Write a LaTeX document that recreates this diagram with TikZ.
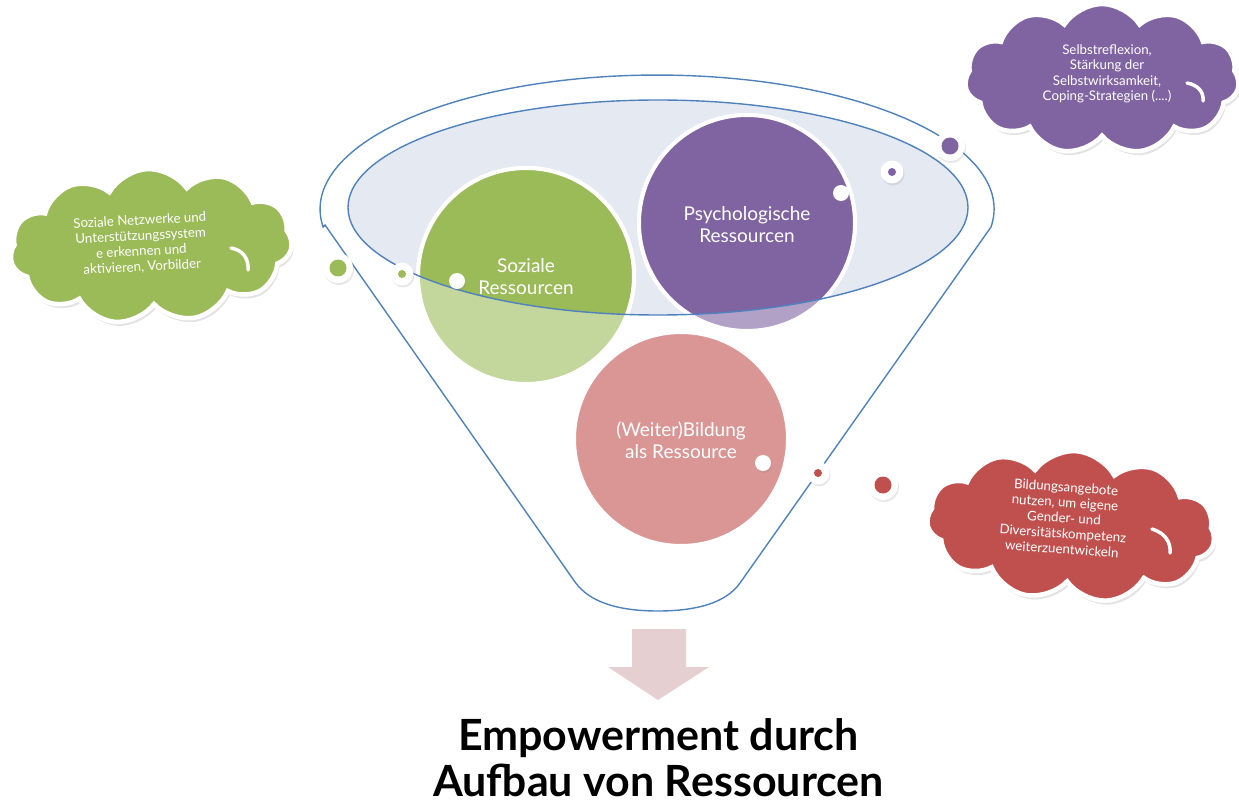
\documentclass[tikz,border=0pt]{standalone}
\usepackage{fontspec}
\setmainfont{Lato}
\usetikzlibrary{shapes.symbols,shadows}
\definecolor{fblue}{RGB}{79,129,189}
\definecolor{fgreen}{RGB}{155,187,89}
\definecolor{fgreenl}{RGB}{195,214,155}
\definecolor{fpurple}{RGB}{128,100,162}
\definecolor{fpurplel}{RGB}{178,161,199}
\definecolor{fred}{RGB}{192,80,77}
\definecolor{fpink}{RGB}{217,150,148}
\definecolor{fell}{RGB}{228,233,242}
\definecolor{farrow}{RGB}{230,207,208}
\tikzset{
  bigcirc/.style={circle, draw=white, line width=4, minimum size=216, inner sep=0},
  ctext/.style={text=white, align=center, font=\fontsize{19}{22}\selectfont},
  cloudbox/.style={cloud, cloud puffs=11, cloud puff arc=115, aspect=1.9, draw=white, line width=4.5, inner sep=0,
     drop shadow={opacity=0.22, shadow xshift=2pt, shadow yshift=-4pt}},
  cltext/.style={text=white, align=center, font=\fontsize{13.3}{15.5}\selectfont},
  ring/.style={circle, fill=white, inner sep=0, drop shadow={opacity=0.18, shadow xshift=1pt, shadow yshift=-2pt}},
  dotin/.style={circle, inner sep=0},
  funnel/.style={draw=fblue, line width=1.4},
  innerarc/.style={draw=white, line width=3.5, line cap=round},
  titletext/.style={anchor=base, inner sep=0, font=\bfseries\fontsize{43}{49}\selectfont},
}
\begin{document}
\begin{tikzpicture}[x=1pt,y=-1pt]
\useasboundingbox (0,0) rectangle (1239,802);
% inner ellipse fill
\fill[fell] (658,207.5) ellipse [x radius=310, y radius=107.5];
% circles (light versions)
\node[bigcirc, fill=fgreenl] (soz) at (526,276) {};
\node[bigcirc, fill=fpurplel] (psy) at (747,223) {};
\node[bigcirc, fill=fpink, minimum size=214] (bil) at (681,439) {};
% full-color parts inside ellipse
\begin{scope}
\clip (658,207.5) ellipse [x radius=310, y radius=107.5];
\path[fill=fgreen, draw=white, line width=4] (526,276) circle [radius=108];
\path[fill=fpurple, draw=white, line width=4] (747,223) circle [radius=108];
\end{scope}
% inner ellipse outline
\draw[funnel] (658,207.5) ellipse [x radius=310, y radius=107.5];
% funnel outline
\draw[funnel] (325,225) -- (575,582) .. controls (590,603) and (620,611) .. (658,611)
   .. controls (696,611) and (726,603) .. (740,583) -- (991,227)
   arc [start angle=7.7, end angle=-187.7, x radius=337, y radius=134] -- cycle;
% circle texts
\node[ctext] (sozt) at (526,277) {Soziale\\Ressourcen};
\node[ctext] (psyt) at (747,225) {Psychologische\\Ressourcen};
\node[ctext] (bilt) at (681,440) {(Weiter)Bildung\\als Ressource};
% white dots on circles
\node[ring, minimum size=16] (wd1) at (457,281) {};
\node[ring, minimum size=16] (wd2) at (841,193) {};
\node[ring, minimum size=16] (wd3) at (763,463) {};
% green dots
\node[ring, minimum size=23] (gs) at (402,274) {};
\node[dotin, fill=fgreen, minimum size=8] (gsi) at (gs) {};
\node[ring, minimum size=30] (gb) at (338,268) {};
\node[dotin, fill=fgreen, minimum size=17] (gbi) at (gb) {};
% purple dots
\node[ring, minimum size=23] (ps) at (892,172) {};
\node[dotin, fill=fpurple, minimum size=8] (psi) at (ps) {};
\node[ring, minimum size=30] (pb) at (950,146) {};
\node[dotin, fill=fpurple, minimum size=17] (pbi) at (pb) {};
% red dots
\node[ring, minimum size=23] (rs) at (818,473) {};
\node[dotin, fill=fred, minimum size=8] (rsi) at (rs) {};
\node[ring, minimum size=30] (rb) at (883,485) {};
\node[dotin, fill=fred, minimum size=17] (rbi) at (rb) {};
% clouds
\node[cloudbox, fill=fgreen, minimum width=282, minimum height=154, rotate=3] (gcloud) at (151,246) {};
\draw[innerarc] (231,248) .. controls (243,250) and (249,259) .. (248,270);
\node[cltext, rotate=3] (gct) at (141,244) {Soziale Netzwerke und\\Unterstützungssystem\\e erkennen und\\aktivieren, Vorbilder};
\node[cloudbox, fill=fpurple, minimum width=274, minimum height=150] (pcloud) at (1102,79) {};
\draw[innerarc] (1187,83) .. controls (1198,85) and (1204,92) .. (1203,101);
\node[cltext] (pct) at (1107,74) {Selbstreflexion,\\Stärkung der\\Selbstwirksamkeit,\\Coping-Strategien (....)};
\node[cloudbox, fill=fred, minimum width=288, minimum height=150, rotate=-4] (rcloud) at (1071,526) {};
\draw[innerarc] (1152,529) .. controls (1165,533) and (1171,542) .. (1170,553);
\node[cltext, rotate=-4] (rct) at (1064,518) {Bildungsangebote\\nutzen, um eigene\\Gender- und\\Diversitätskompetenz\\weiterzuentwickeln};
% arrow
\fill[farrow] (632,629) -- (686,629) -- (686,667) -- (709,667) -- (658,700) -- (608,667) -- (632,667) -- cycle;
% title
\node[titletext] (t1) at (658.5,750) {Empowerment durch};
\node[titletext] (t2) at (658.5,796) {Aufbau von Ressourcen};
\end{tikzpicture}
\end{document}
